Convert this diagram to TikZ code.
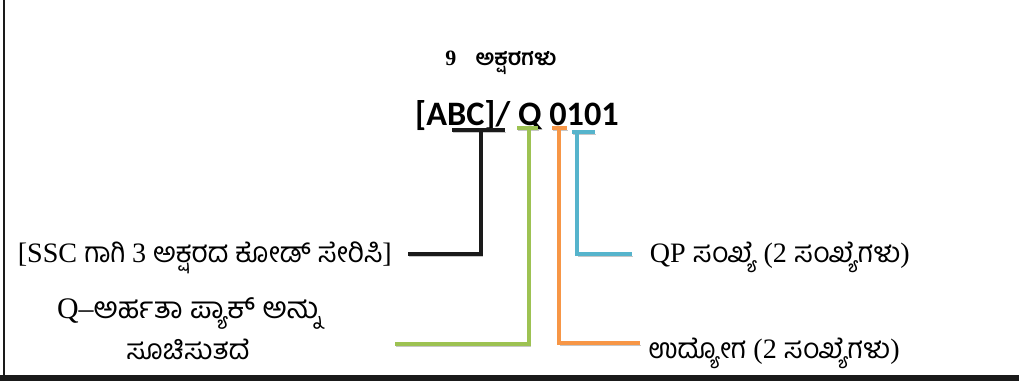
\documentclass[tikz,border=0pt]{standalone}
\usepackage{fontspec}
\setmainfont{Liberation Serif}
\newfontfamily\knfont[Script=Kannada]{Hind Mysuru}
\newfontfamily\codefont{Carlito}
\definecolor{blk}{RGB}{26,26,26}
\definecolor{grn}{RGB}{157,194,82}
\definecolor{org}{RGB}{247,150,70}
\definecolor{blu}{RGB}{86,180,204}
\tikzset{
  bar/.style={line width=2.8pt, preaction={draw=black!22, transform canvas={shift={(0.8pt,-1.4pt)}}}},
  lbl/.style={font=\fontsize{16}{18}\selectfont, inner sep=0pt, text height=10pt, text depth=0pt}
}

\begin{document}
\begin{tikzpicture}[x=0.02cm, y=-0.02cm]

    \useasboundingbox (0,0) rectangle (1019,381);
    \draw[blk, line width=1.7pt] (4,0) -- (4,378);
    \fill[blk] (0,375) rectangle (1019,381);

    \node (a) at (501,63) {\fontsize{12.5}{14}\selectfont\bfseries 9\hspace{11pt}{\knfont ಅಕ್ಷರಗಳು}};
    \node[anchor=base] (b) at (517,126) {\fontsize{19.5}{22}\selectfont\codefont\bfseries [ABC]/ Q 0101};
    \node[lbl, anchor=east, inner xsep=9pt] (c) at (408,254) {[SSC {\knfont ಗಾಗಿ} 3 {\knfont ಅಕ್ಷರದ ಕೋಡ್ ಸೇರಿಸಿ}]};
    \node[lbl, font=\fontsize{17}{19}\selectfont] (d) at (189,310) {Q--{\knfont ಅರ್ಹತಾ ಪ್ಯಾಕ್ ಅನ್ನು}};
    \node[lbl] (e) at (188,351) {{\knfont ಸೂಚಿಸುತದೆ}};
    \node[lbl, anchor=west, inner xsep=10pt] (f) at (632,254) {QP {\knfont ಸಂಖ್ಯೆ} (2 {\knfont ಸಂಖ್ಯೆಗಳು})};
    \node[lbl, anchor=west] (g) at (648,350) {{\knfont ಉದ್ಯೋಗ} (2 {\knfont ಸಂಖ್ಯೆಗಳು})};

    \coordinate (k1) at (452,130);
    \coordinate (k2) at (505,130);
    \coordinate (k3) at (481,130);
    \coordinate (m1) at (517,128);
    \coordinate (m2) at (538,128);
    \coordinate (m3) at (529,128);
    \coordinate (m4) at (395,344);
    \coordinate (n1) at (552,128);
    \coordinate (n2) at (567,128);
    \coordinate (n3) at (559,128);
    \coordinate (n4) at (640,343);
    \coordinate (p1) at (572,132);
    \coordinate (p2) at (595,132);
    \coordinate (p3) at (577,132);

    \draw[bar, blk] (k1) -- (k2);
    \draw[bar, blk] (k3) |- (c.east);
    \draw[bar, grn] (m1) -- (m2);
    \draw[bar, grn] (m3) |- (m4);
    \draw[bar, org] (n1) -- (n2);
    \draw[bar, org] (n3) |- (n4);
    \draw[bar, blu] (p1) -- (p2);
    \draw[bar, blu] (p3) |- (f.west);

\end{tikzpicture}
\end{document}
